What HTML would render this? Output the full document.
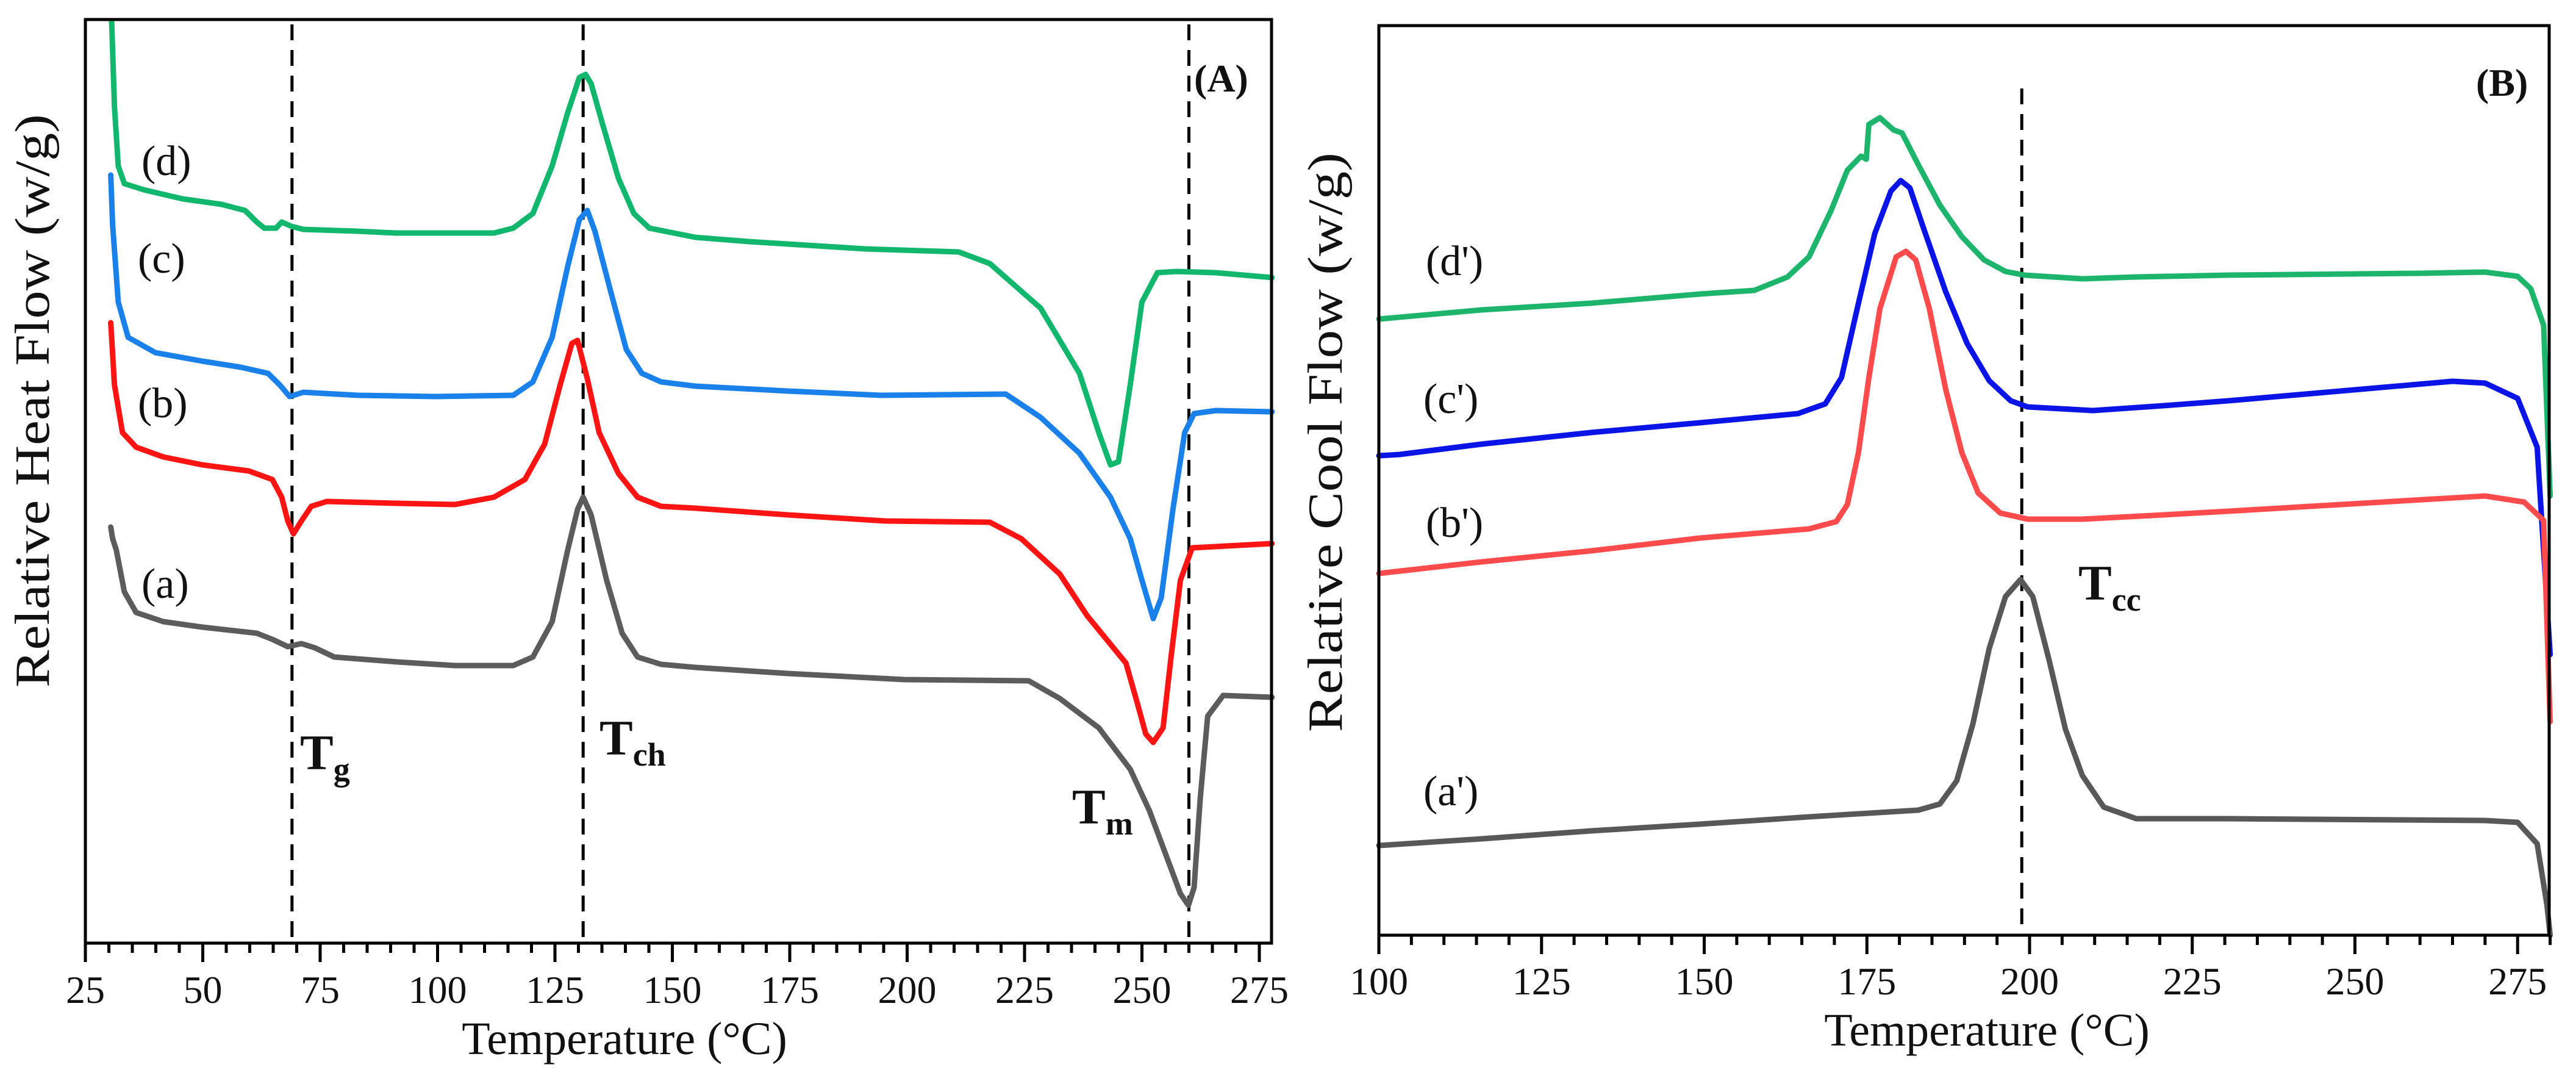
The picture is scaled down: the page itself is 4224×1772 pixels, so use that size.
<!DOCTYPE html>
<html><head><meta charset="utf-8"><style>
html,body{margin:0;padding:0;background:#fff}
svg{display:block}
text{font-family:"Liberation Serif",serif;fill:#111}
</style></head><body>
<svg id="fig" xmlns="http://www.w3.org/2000/svg" width="4224" height="1772" viewBox="0 0 4224 1772">
<g id="panelA"></g>
<g id="panelB"></g>
</svg>
<script>
// ---- Panel A data (temperature °C, relative heat flow) ----
const aT_d=[30.6,31.2,32.0,33.3,37.4,45.7,54.0,59.0,61.5,63.1,65.6,66.8,68.9,71.4,83.0,91.3,112.0,116.1,120.3,124.4,127.7,130.2,131.5,132.7,135.2,138.5,141.8,145.1,154.9,166.3,191.1,211.0,217.6,228.4,236.7,240.8,243.3,245.0,247.5,250.0,253.3,257.4,265.7,277.7];
const aV_d=[151.1,137.1,127.4,124.5,123.5,122.0,121.1,120.1,118.2,117.2,117.2,118.2,117.5,117.0,116.7,116.4,116.4,117.2,119.6,127.4,136.1,141.9,142.4,140.9,134.1,125.4,119.6,117.2,115.7,115.0,113.8,113.3,111.4,104.1,93.4,83.7,78.4,78.9,91.5,105.1,109.9,110.1,109.9,109.1];
const aT_c=[30.4,30.8,32.0,34.1,39.9,49.9,58.1,63.9,66.4,68.5,71.4,83.0,99.6,116.1,120.3,124.4,127.7,130.2,131.9,133.5,136.8,140.2,143.5,147.6,154.9,174.6,194.4,221.0,228.4,236.7,243.3,247.5,250.0,252.4,254.1,256.6,259.1,261.1,265.7,277.7];
const aV_c=[125.9,117.7,105.1,99.3,96.8,95.4,94.4,93.4,91.5,89.6,90.3,89.8,89.6,89.8,92.0,99.3,110.9,118.6,120.1,116.7,107.0,97.3,93.4,92.0,91.3,90.5,89.8,90.0,86.2,80.3,73.1,66.3,59.5,53.2,56.6,71.1,83.7,86.8,87.3,87.1];
const aT_b=[30.4,31.2,32.9,35.8,41.6,49.9,59.8,64.8,66.8,68.1,69.3,71.0,73.1,76.4,91.3,103.7,112.0,118.6,122.8,126.1,128.6,129.8,131.9,134.4,138.5,142.6,147.6,154.9,174.6,195.3,217.6,224.3,232.5,238.3,246.6,249.1,250.8,252.4,254.5,256.2,258.2,260.7,277.7];
const aV_b=[101.7,91.5,83.7,81.3,79.7,78.4,77.4,76.0,73.1,69.2,67.1,69.2,71.6,72.4,72.1,71.9,73.1,76.0,81.8,91.5,98.3,98.8,92.5,83.7,77.0,73.1,71.6,71.3,70.2,69.2,69.0,66.3,60.5,53.7,45.9,39.1,34.3,32.9,35.3,46.9,59.5,64.8,65.5,65.3];
const aT_a=[30.4,30.8,31.6,33.3,35.8,41.6,49.9,61.5,64.8,68.1,71.0,73.9,78.0,91.3,103.7,116.1,120.3,124.4,127.7,129.8,131.0,132.7,136.0,139.3,142.6,147.6,154.9,174.6,199.4,225.9,232.5,240.8,247.5,251.6,254.9,258.2,259.9,261.1,262.4,264.0,267.3,277.7];
const aV_a=[68.2,66.3,64.4,57.6,54.2,52.7,51.8,50.8,49.8,48.6,49.1,48.4,46.9,46.1,45.5,45.5,46.9,52.7,64.4,71.1,73.1,70.2,59.5,50.8,46.9,45.7,45.2,44.2,43.2,43.0,40.1,35.3,28.5,21.7,14.9,8.1,6.2,9.1,23.6,37.2,40.6,40.3];
const aTicks=[25,50,75,100,125,150,175,200,225,250,275];
const aDashes=[69,131,260];
// ---- Panel B data (temperature °C, relative cool flow) ----
const bT_d=[100,115.8,132.6,149.3,157.7,162.8,166.1,169.5,172.0,174.1,174.9,175.3,177.0,179.1,180.4,182.9,186.2,189.6,193.0,196.3,199.2,208.1,216.4,230.5,260,270,275,277,279,280];
const bV_d=[101.0,102.5,103.6,105.1,105.7,107.9,111.2,118.8,125.4,127.7,127.2,132.9,134.0,132.0,131.5,126.3,119.7,114.5,110.7,108.8,108.2,107.6,107.9,108.2,108.5,108.7,108.0,106.0,100.0,72.0];
const bT_c=[100,103.2,115.8,132.6,149.3,164.4,168.6,171.1,173.7,176.2,178.7,180.2,181.6,183.7,187.1,190.4,193.8,197.1,199.7,209.7,220.6,230.5,265,270,275,278,280];
const bV_c=[78.6,78.8,80.5,82.4,84.0,85.5,87.1,91.4,103.6,115.0,122.0,123.7,122.5,115.9,105.5,97.0,90.9,87.6,86.6,86.0,86.8,87.6,90.8,90.5,88.0,80.0,46.0];
const bT_b=[100,115.8,132.6,149.3,166.1,170.3,172.0,173.7,175.3,177.0,179.5,181.0,182.5,184.6,187.1,189.6,192.1,195.5,199.7,208.1,220.6,230.5,270,276,279,280];
const bV_b=[59.3,61.2,63.0,65.1,66.6,67.8,70.6,79.1,91.4,102.7,111.2,112.1,110.7,102.7,89.5,79.1,72.5,69.2,68.2,68.2,68.9,69.5,72.0,71.0,68.0,35.0];
const bT_a=[100,115.8,132.6,149.3,166.1,182.9,186.2,188.8,191.3,193.8,196.3,198.6,200.5,203.0,205.5,208.1,211.4,216.4,230.5,270,275,278,279.5,280];
const bV_a=[14.7,15.8,17.1,18.2,19.4,20.5,21.5,25.3,34.7,47.0,55.5,58.3,55.5,45.1,33.8,26.2,21.0,19.1,19.1,18.8,18.5,15.0,5.0,0];
const bTicks=[100,125,150,175,200,225,250,275];
const bDashes=[198.8];

const NS='http://www.w3.org/2000/svg';
function mk(parent,tag,attrs){const e=document.createElementNS(NS,tag);for(const k in attrs)e.setAttribute(k,attrs[k]);parent.appendChild(e);return e;}

const A={x0:140,x1:2085,y0:32,y1:1546,t0:25,ppt:7.7,ppv:10};
const B={x0:2261,x1:4180,y0:42,y1:1533,t0:100,ppt:10.67,ppv:10};
function ax(P,t){return P.x0+(t-P.t0)*P.ppt;}
function ay(P,v){return P.y1-v*P.ppv;}

function series(g,P,T,V,color,name){
  const pts=T.map((t,i)=>ax(P,t).toFixed(1)+','+ay(P,V[i]).toFixed(1)).join(' ');
  const pl=mk(g,'polyline',{points:pts,fill:'none',stroke:color,'stroke-width':9,'stroke-linejoin':'round','stroke-linecap':'round'});
  
  
}
function frame(g,P,ticks,minorFrom,minorTo,labelY,panel){
  const r=mk(g,'rect',{x:P.x0,y:P.y0,width:P.x1-P.x0,height:P.y1-P.y0,fill:'none',stroke:'#000','stroke-width':5});
  
  
  for(let t=minorFrom;t<=minorTo;t+=5){
    const major=ticks.indexOf(t)>=0;
    const l=mk(g,'line',{x1:ax(P,t),x2:ax(P,t),y1:P.y1,y2:P.y1+(major?31:16),stroke:'#000','stroke-width':5});
    
    
  }
  ticks.forEach(t=>{
    const tx=mk(g,'text',{x:ax(P,t),y:labelY,'font-size':64,'text-anchor':'middle'});
    tx.textContent=t;
    
    
  });
}
function dashes(g,P,list,yA,yB){
  list.forEach(t=>{
    const l=mk(g,'line',{x1:ax(P,t),x2:ax(P,t),y1:yA,y2:yB,stroke:'#000','stroke-width':5,'stroke-dasharray':'26 16'});
    
    
  });
}
function label(g,x,y,txt,name,size,bold,anchor){
  const t=mk(g,'text',{x:x,y:y,'font-size':size||70,'text-anchor':anchor||'start','font-weight':bold?'bold':'normal'});
  t.textContent=txt;
  
  
  return t;
}
function sublabel(g,x,y,main,sub,name){
  const t=mk(g,'text',{x:x,y:y,'font-size':82,'font-weight':'bold'});
  
  
  const s1=mk(t,'tspan',{});s1.textContent=main;
  const s2=mk(t,'tspan',{'font-size':54,dy:18});s2.textContent=sub;
}

// ---- Panel A ----
const gA=document.getElementById('panelA');
dashes(gA,A,aDashes,A.y0+8,A.y1);
series(gA,A,aT_d,aV_d,'#12b76e','curve-d');
series(gA,A,aT_c,aV_c,'#1a80ea','curve-c');
series(gA,A,aT_b,aV_b,'#ff1414','curve-b');
series(gA,A,aT_a,aV_a,'#5c5c5c','curve-a');
frame(gA,A,aTicks,25,275,1644,'panel-a');
label(gA,232,287,'(d)','label-d');
label(gA,226,447,'(c)','label-c');
label(gA,226,684,'(b)','label-b');
label(gA,232,980,'(a)','label-a');
label(gA,1958,150,'(A)','panel-a-tag',64,true);
sublabel(gA,492,1261,'T','g','tg-label');
sublabel(gA,983,1237,'T','ch','tch-label');
sublabel(gA,1758,1350,'T','m','tm-label');
label(gA,1024,1728,'Temperature (°C)','x-axis-title-a',76,false,'middle');
const yA=mk(gA,'text',{x:0,y:0,'font-size':80,'text-anchor':'middle',transform:'translate(80,657) rotate(-90)',textLength:940,lengthAdjust:'spacingAndGlyphs'});
yA.textContent='Relative Heat Flow (w/g)';



// ---- Panel B ----
const gB=document.getElementById('panelB');
dashes(gB,B,bDashes,145,1525);
series(gB,B,bT_d,bV_d,'#1db56c','curve-d-prime');
series(gB,B,bT_c,bV_c,'#0a14e6','curve-c-prime');
series(gB,B,bT_b,bV_b,'#ff4b4b','curve-b-prime');
series(gB,B,bT_a,bV_a,'#585858','curve-a-prime');
frame(gB,B,bTicks,100,280,1630,'panel-b');
label(gB,2338,451,"(d')",'label-d-prime');
label(gB,2334,677,"(c')",'label-c-prime');
label(gB,2338,880,"(b')",'label-b-prime');
label(gB,2334,1320,"(a')",'label-a-prime');
label(gB,4060,157,'(B)','panel-b-tag',64,true);
sublabel(gB,3408,983,'T','cc','tcc-label');
label(gB,3258,1714,'Temperature (°C)','x-axis-title-b',76,false,'middle');
const yB=mk(gB,'text',{x:0,y:0,'font-size':80,'text-anchor':'middle',transform:'translate(2200,725) rotate(-90)',textLength:950,lengthAdjust:'spacingAndGlyphs'});
yB.textContent='Relative Cool Flow (w/g)';


</script>
</body></html>
